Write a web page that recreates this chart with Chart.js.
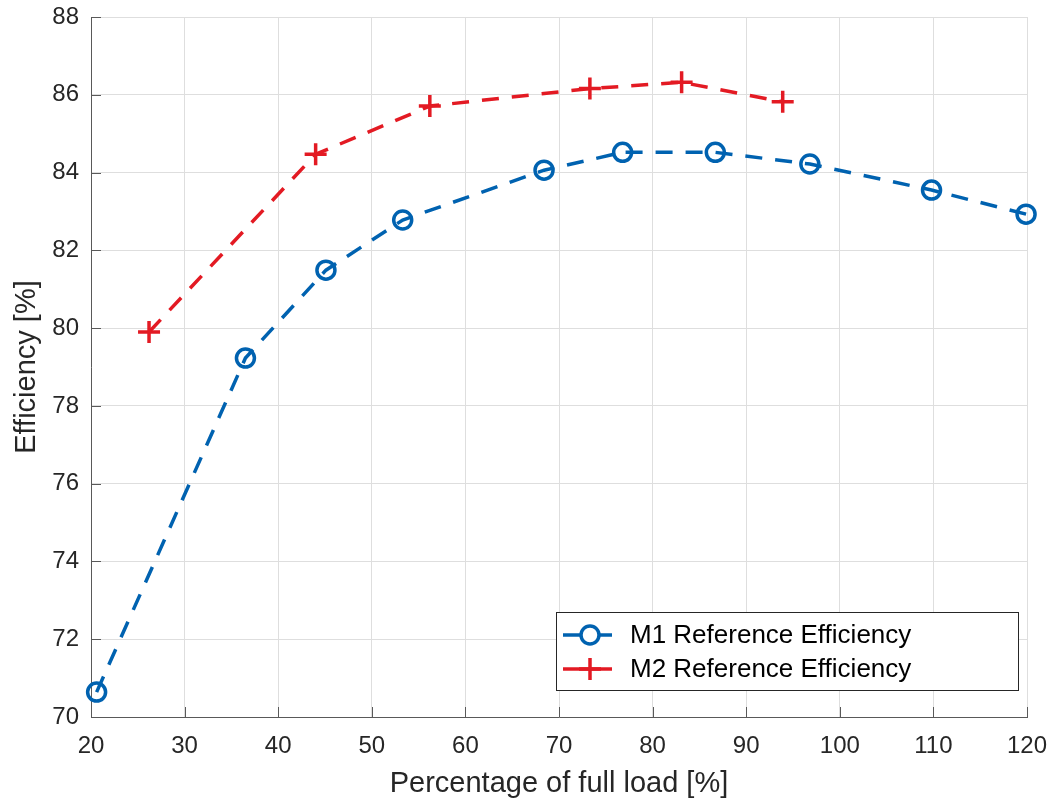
<!DOCTYPE html>
<html>
<head>
<meta charset="utf-8">
<script src="https://cdn.jsdelivr.net/npm/chart.js@4/dist/chart.umd.min.js"></script>
<style>
  html, body { margin: 0; padding: 0; background: #fff; }
  #wrap { width: 1056px; height: 803px; }
</style>
</head>
<body>
<div id="wrap"><canvas id="effChart" width="1056" height="803"></canvas></div>
<script>
/* ---- Data ---- */
const M1_LOAD = [20.6, 36.5, 45.1, 53.3, 68.4, 76.8, 86.7, 96.8, 109.8, 119.9];
const M1_EFF  = [70.64, 79.23, 81.49, 82.78, 84.06, 84.52, 84.52, 84.22, 83.55, 82.93];
const M2_LOAD = [26.2, 44.0, 56.2, 73.3, 83.1, 93.9];
const M2_EFF  = [79.9, 84.47, 85.71, 86.16, 86.32, 85.82];
const SERIES_NAMES = ['M1 Reference Efficiency', 'M2 Reference Efficiency'];

const BLUE = '#0062B0';
const RED  = '#E31A23';
const TEXT = '#262626';
const AXIS = '#595959';
const FONT = '"Liberation Sans", Arial, sans-serif';

const toPts = (xs, ys) => xs.map((x, i) => ({ x, y: ys[i] }));

/* ---- Inward tick marks + legend box ---- */
const matlabLook = {
  id: 'matlabLook',
  afterDraw(chart) {
    const { ctx, chartArea: a, scales: { x, y } } = chart;
    ctx.save();
    ctx.strokeStyle = AXIS;
    ctx.lineWidth = 1;
    ctx.beginPath();
    x.ticks.forEach(t => {
      const px = Math.round(x.getPixelForValue(t.value)) + 0.5;
      ctx.moveTo(px, a.bottom); ctx.lineTo(px, a.bottom - 10);
    });
    y.ticks.forEach(t => {
      const py = Math.round(y.getPixelForValue(t.value)) + 0.5;
      ctx.moveTo(a.left, py); ctx.lineTo(a.left + 10, py);
    });
    ctx.stroke();

    // legend
    const bx = 556.5, by = 612.5, bw = 462, bh = 78;
    ctx.fillStyle = '#fff';
    ctx.fillRect(bx, by, bw, bh);
    ctx.strokeStyle = TEXT;
    ctx.strokeRect(bx, by, bw, bh);
    const rows = [635, 669];
    chart.data.datasets.forEach((ds, i) => {
      const ry = rows[i];
      ctx.strokeStyle = ds.borderColor;
      ctx.lineWidth = ds.borderWidth;
      ctx.setLineDash([]);
      ctx.beginPath();
      ctx.moveTo(563, ry); ctx.lineTo(612, ry);
      ctx.stroke();
      if (ds.pointStyle === 'circle') {
        ctx.fillStyle = '#fff';
        ctx.beginPath(); ctx.arc(590, ry, ds.pointRadius, 0, Math.PI * 2); ctx.fill();
      }
      ctx.fillStyle = 'rgba(0,0,0,0)';
      Chart.helpers.drawPoint(ctx, {
        pointStyle: ds.pointStyle, radius: ds.pointRadius, borderWidth: ds.pointBorderWidth, rotation: 0
      }, 590, ry);
      ctx.fillStyle = '#000';
      ctx.font = '26px ' + FONT;
      ctx.textBaseline = 'middle';
      ctx.fillText(ds.label, 630, ry + 1);
    });
    ctx.restore();
  }
};

new Chart(document.getElementById('effChart'), {
  type: 'line',
  data: {
    datasets: [
      {
        label: SERIES_NAMES[0],
        data: toPts(M1_LOAD, M1_EFF),
        borderColor: BLUE,
        borderWidth: 3.5,
        borderDash: [17, 13],
        pointStyle: 'circle',
        pointRadius: 9,
        pointBorderWidth: 3.5,
        pointBorderColor: BLUE,
        pointBackgroundColor: 'rgba(0,0,0,0)',
        tension: 0,
        clip: false
      },
      {
        label: SERIES_NAMES[1],
        data: toPts(M2_LOAD, M2_EFF),
        borderColor: RED,
        borderWidth: 3.5,
        borderDash: [17, 13],
        pointStyle: 'cross',
        pointRadius: 11,
        pointBorderWidth: 3.5,
        pointBorderColor: RED,
        pointBackgroundColor: RED,
        tension: 0,
        clip: false
      }
    ]
  },
  options: {
    responsive: false,
    animation: false,
    layout: { padding: { left: 0, top: 17, right: 29, bottom: 0 } },
    plugins: { legend: { display: false }, tooltip: { enabled: false } },
    scales: {
      x: {
        type: 'linear',
        min: 20, max: 120,
        afterFit: s => { s.height = 86; s.paddingLeft = 0; s.paddingRight = 0; },
        ticks: { stepSize: 10, color: TEXT, padding: 15, font: { family: FONT, size: 24 } },
        grid: { color: '#dedede', lineWidth: 1, tickLength: 0 },
        border: { color: AXIS, width: 1 },
        title: { display: true, text: 'Percentage of full load [%]', color: TEXT,
                 font: { family: FONT, size: 29 }, padding: { top: 0, bottom: 2 } }
      },
      y: {
        type: 'linear',
        min: 70, max: 88,
        afterFit: s => { s.width = 91; s.paddingTop = 0; s.paddingBottom = 0; },
        ticks: { stepSize: 2, color: TEXT, padding: 12, font: { family: FONT, size: 24 } },
        grid: { color: '#dedede', lineWidth: 1, tickLength: 0 },
        border: { color: AXIS, width: 1 },
        title: { display: true, text: 'Efficiency [%]', color: TEXT,
                 font: { family: FONT, size: 29 }, padding: { top: 10, bottom: 0 } }
      }
    }
  },
  plugins: [matlabLook]
});
</script>
</body>
</html>
